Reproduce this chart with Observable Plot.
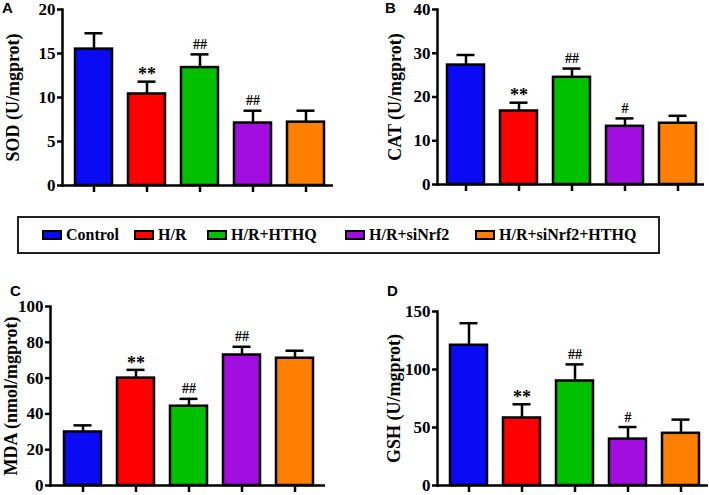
<!DOCTYPE html>
<html>
<head>
<meta charset="utf-8">
<script src="https://cdn.jsdelivr.net/npm/d3@7"></script>
<script src="https://cdn.jsdelivr.net/npm/@observablehq/plot@0.6"></script>
<style>
  body { margin: 0; background: #fff; }
  #root { position: relative; width: 709px; height: 495px; overflow: hidden; font-family: "Liberation Serif", "Times New Roman", serif; }
  .panel { position: absolute; }
  .letter { position: absolute; font-family: "Liberation Sans", Arial, sans-serif; font-weight: bold; font-size: 15px; line-height: 15px; color: #000; }
  #legend { position: absolute; left: 17px; top: 216px; width: 639px; height: 34px; border: 2px solid #222; box-sizing: content-box; }
  .item { position: absolute; top: 0; height: 34px; display: flex; align-items: center; font-weight: bold; font-size: 16px; color: #000; white-space: nowrap; }
  .sw { width: 16px; height: 6px; border: 2px solid #000; margin-right: 4px; }
</style>
</head>
<body>
<div id="root"></div>
<script>
const groups = ["Control", "H/R", "H/R+HTHQ", "H/R+siNrf2", "H/R+siNrf2+HTHQ"];
const colors = ["#0a0af5", "#ff0000", "#00c000", "#a30ee0", "#ff8000"];

const sodMean = [15.5, 10.4, 13.4, 7.1, 7.2];
const sodSD   = [1.8, 1.4, 1.5, 1.4, 1.3];
const sodSig  = ["", "**", "##", "##", ""];

const catMean = [27.3, 16.8, 24.5, 13.3, 14.0];
const catSD   = [2.3, 1.9, 2.0, 1.8, 1.7];
const catSig  = ["", "**", "##", "#", ""];

const mdaMean = [29.9, 60.0, 44.3, 72.9, 71.1];
const mdaSD   = [3.7, 4.6, 4.1, 4.6, 4.2];
const mdaSig  = ["", "**", "##", "##", ""];

const gshMean = [120.9, 58.2, 90.1, 40.0, 45.0];
const gshSD   = [19.0, 11.8, 14.3, 10.4, 11.8];
const gshSig  = ["", "**", "##", "#", ""];

const sodTicks = [0, 5, 10, 15, 20];
const catTicks = [0, 10, 20, 30, 40];
const mdaTicks = [0, 20, 40, 60, 80, 100];
const gshTicks = [0, 50, 100, 150];

const root = document.getElementById("root");
const serif = '"Liberation Serif", "Times New Roman", serif';

function panel(opts) {
  const data = groups.map((g, i) => ({group: g, mean: opts.mean[i], top: opts.mean[i] + opts.sd[i], sig: opts.sig[i]}));
  const [r0, r1] = opts.xr;
  const plot = Plot.plot({
    width: opts.width, height: opts.height,
    marginLeft: opts.ml, marginRight: opts.mr, marginTop: opts.mt, marginBottom: opts.mb,
    style: {fontFamily: serif, fontWeight: "bold", fontSize: "16px", overflow: "visible", background: "transparent", color: "#000"},
    x: {domain: groups, range: [r0, r1], paddingInner: 0.31, paddingOuter: 0.155, axis: null},
    y: {domain: [0, opts.ticks[opts.ticks.length - 1]], axis: null},
    color: {domain: groups, range: colors},
    marks: [
      Plot.ruleX(data, {x: "group", y1: "mean", y2: "top", stroke: "#000", strokeWidth: 2.5}),
      Plot.tickY(data, {x: "group", y: "top", stroke: "#000", strokeWidth: 2.5, insetLeft: 9.5, insetRight: 9.5}),
      Plot.barY(data, {x: "group", y: "mean", fill: "group", stroke: "#000", strokeWidth: 2.5}),
      Plot.text(data.filter(d => d.sig === "**"), {x: "group", y: "top", text: "sig", dy: -7, fontSize: 18, fontWeight: "bold", fontFamily: serif, fill: "#000"}),
      Plot.text(data.filter(d => d.sig.startsWith("#")), {x: "group", y: "top", text: "sig", dy: -10, fontSize: 14, fontWeight: "bold", fontFamily: serif, fill: "#000"}),
      Plot.axisY({ticks: opts.ticks, tickSize: 5, tickPadding: 2, strokeWidth: 2.5, label: null, fontSize: 17, fontWeight: "bold", fontFamily: serif}),
      Plot.axisX({tickSize: 7, tickFormat: () => "", strokeWidth: 2.5, label: null}),
      Plot.ruleY([0], {stroke: "#000", strokeWidth: 2.5}),
      Plot.frame({anchor: "left", stroke: "#000", strokeWidth: 2.5}),
      Plot.text([opts.label], {frameAnchor: "left", textAnchor: "middle", rotate: -90, dx: opts.ldx, fontSize: 18, fontWeight: "bold", fontFamily: serif, fill: "#000"})
    ]
  });
  const div = document.createElement("div");
  div.className = "panel";
  div.style.left = opts.left + "px";
  div.style.top = opts.top + "px";
  div.appendChild(plot);
  root.appendChild(div);
}

panel({mean: sodMean, sd: sodSD, sig: sodSig, ticks: sodTicks, label: "SOD (U/mgprot)",
  left: 0, top: 0, width: 350, height: 200, ml: 62, mr: 17, mt: 9, mb: 15, xr: [65.25, 332.75], ldx: -49});
panel({mean: catMean, sd: catSD, sig: catSig, ticks: catTicks, label: "CAT (U/mgprot)",
  left: 355, top: 0, width: 354, height: 200, ml: 82, mr: 5, mt: 9, mb: 16, xr: [83.4, 349.6], ldx: -42});
panel({mean: mdaMean, sd: mdaSD, sig: mdaSig, ticks: mdaTicks, label: "MDA (nmol/mgprot)",
  left: 0, top: 270, width: 350, height: 225, ml: 50, mr: 25, mt: 36, mb: 10, xr: [54.1, 322.9], ldx: -39});
panel({mean: gshMean, sd: gshSD, sig: gshSig, ticks: gshTicks, label: "GSH (U/mgprot)",
  left: 355, top: 270, width: 354, height: 225, ml: 82, mr: 1, mt: 41, mb: 10, xr: [85.25, 352.75], ldx: -43});

[["A", 2, 0], ["B", 385, 0], ["C", 10, 283], ["D", 387, 283]].forEach(([t, x, y]) => {
  const d = document.createElement("div");
  d.className = "letter"; d.textContent = t;
  d.style.left = x + "px"; d.style.top = y + "px";
  root.appendChild(d);
});

const legend = document.createElement("div");
legend.id = "legend";
const legendLeft = [23, 115, 188, 326, 456];
groups.forEach((g, i) => {
  const it = document.createElement("div");
  it.className = "item";
  it.style.left = legendLeft[i] + "px";
  const sw = document.createElement("span");
  sw.className = "sw"; sw.style.background = colors[i];
  const tx = document.createElement("span");
  tx.textContent = g;
  it.appendChild(sw); it.appendChild(tx);
  legend.appendChild(it);
});
root.appendChild(legend);
</script>
</body>
</html>
